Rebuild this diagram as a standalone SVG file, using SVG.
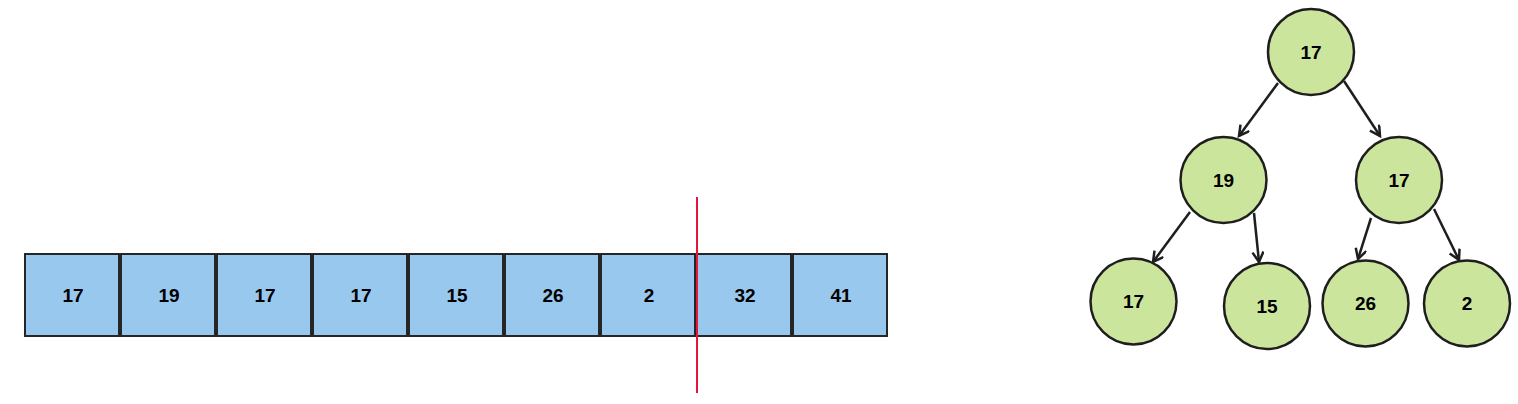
<svg xmlns="http://www.w3.org/2000/svg" width="1518" height="404" viewBox="0 0 1518 404">
<style>
.box{fill:#99c8ee;stroke:#262626;stroke-width:2}
.node{fill:#cce59c;stroke:#1e1e1e;stroke-width:2.5}
.t{font-family:"Liberation Sans",Arial,sans-serif;font-weight:bold;font-size:19px;fill:#000;text-anchor:middle;dominant-baseline:central}
.edge{stroke:#1e1e1e;stroke-width:2.5;fill:none;marker-end:url(#arr)}
</style>
<defs>
<marker id="arr" markerUnits="userSpaceOnUse" markerWidth="20" markerHeight="20" refX="11" refY="6" orient="auto">
<path d="M1,0.5 L11,6 L1,11.5" fill="none" stroke="#1e1e1e" stroke-width="2.5"/>
</marker>
</defs>
<rect width="1518" height="404" fill="#fff"/>
<g id="array">
<g id="a0"><rect class="box" x="25" y="254" width="94" height="82"/><text class="t" x="73" y="295">17</text></g>
<g id="a1"><rect class="box" x="121" y="254" width="94" height="82"/><text class="t" x="169" y="295">19</text></g>
<g id="a2"><rect class="box" x="217" y="254" width="94" height="82"/><text class="t" x="265" y="295">17</text></g>
<g id="a3"><rect class="box" x="313" y="254" width="94" height="82"/><text class="t" x="361" y="295">17</text></g>
<g id="a4"><rect class="box" x="409" y="254" width="94" height="82"/><text class="t" x="457" y="295">15</text></g>
<g id="a5"><rect class="box" x="505" y="254" width="94" height="82"/><text class="t" x="553" y="295">26</text></g>
<g id="a6"><rect class="box" x="601" y="254" width="94" height="82"/><text class="t" x="649" y="295">2</text></g>
<g id="a7"><rect class="box" x="697" y="254" width="94" height="82"/><text class="t" x="745" y="295">32</text></g>
<g id="a8"><rect class="box" x="793" y="254" width="94" height="82"/><text class="t" x="841" y="295">41</text></g>
</g>
<g id="divider"><line x1="697" y1="197" x2="697" y2="393" stroke="#e5163a" stroke-width="2"/></g>
<g id="connectors">
<line class="edge" x1="1278" y1="83" x2="1239" y2="136"/>
<line class="edge" x1="1344" y1="81" x2="1380" y2="136"/>
<line class="edge" x1="1190" y1="212" x2="1153" y2="262"/>
<line class="edge" x1="1254" y1="213" x2="1259" y2="262"/>
<line class="edge" x1="1371" y1="218" x2="1358" y2="259"/>
<line class="edge" x1="1434" y1="209" x2="1459" y2="260"/>
</g>
<g id="n0"><circle class="node" cx="1311" cy="52" r="43"/><text class="t" x="1311" y="52">17</text></g>
<g id="n1"><circle class="node" cx="1223.5" cy="180" r="43"/><text class="t" x="1223.5" y="180">19</text></g>
<g id="n2"><circle class="node" cx="1399" cy="180" r="43"/><text class="t" x="1399" y="180">17</text></g>
<g id="n3"><circle class="node" cx="1133.5" cy="301.5" r="43"/><text class="t" x="1133.5" y="301.5">17</text></g>
<g id="n4"><circle class="node" cx="1267" cy="306" r="43"/><text class="t" x="1267" y="306">15</text></g>
<g id="n5"><circle class="node" cx="1365.5" cy="303.5" r="43"/><text class="t" x="1365.5" y="303.5">26</text></g>
<g id="n6"><circle class="node" cx="1467" cy="303.5" r="43"/><text class="t" x="1467" y="303.5">2</text></g>
</svg>
